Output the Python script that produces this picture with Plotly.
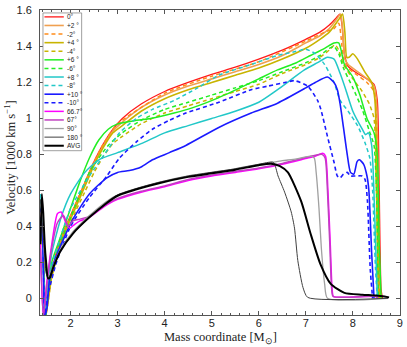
import plotly.graph_objects as go

# ---- data (mass coordinate [Msun], velocity [1000 km/s]) ----
m_p0 = [1.36, 1.39, 1.43, 1.46, 1.52, 1.60, 1.75, 1.90, 2.10, 2.30, 2.50, 2.70, 2.90, 3.10, 3.50, 4.00, 4.50,
        5.00, 5.50, 6.00, 6.50, 7.00, 7.30, 7.50, 7.65, 7.72, 7.77, 7.82, 7.90, 8.10, 8.30, 8.45, 8.52, 8.56,
        8.60, 8.63]
v_p0 = [0.40, 0.50, 0.20, -0.10, 0.02, 0.15, 0.30, 0.40, 0.52, 0.64, 0.76, 0.86, 0.94, 1.00, 1.08, 1.15, 1.20,
        1.245, 1.285, 1.33, 1.38, 1.44, 1.48, 1.52, 1.56, 1.58, 1.52, 1.36, 1.29, 1.25, 1.22, 1.19, 1.10, 0.60,
        0.05, 0.0]

m_p2 = [1.36, 1.40, 1.44, 1.47, 1.53, 1.60, 1.75, 1.90, 2.10, 2.30, 2.50, 2.70, 2.90, 3.10, 3.50, 4.00, 4.50,
        5.00, 5.50, 6.00, 6.50, 7.00, 7.30, 7.50, 7.65, 7.74, 7.78, 7.83, 7.90, 8.10, 8.30, 8.45, 8.50, 8.54,
        8.58, 8.61]
v_p2 = [0.35, 0.45, 0.10, -0.10, 0.00, 0.13, 0.28, 0.39, 0.51, 0.63, 0.75, 0.85, 0.93, 0.98, 1.06, 1.13, 1.18,
        1.22, 1.26, 1.30, 1.35, 1.42, 1.46, 1.50, 1.55, 1.58, 1.50, 1.33, 1.30, 1.26, 1.22, 1.18, 1.10, 0.60,
        0.05, 0.0]

m_m2 = [1.36, 1.40, 1.44, 1.47, 1.53, 1.60, 1.75, 1.90, 2.10, 2.30, 2.50, 2.70, 2.90, 3.10, 4.00, 5.00, 6.00,
        7.00, 7.40, 7.60, 7.70, 7.75, 7.80, 7.90, 8.10, 8.30, 8.45, 8.50, 8.53, 8.57]
v_m2 = [0.30, 0.42, 0.05, -0.10, 0.02, 0.14, 0.29, 0.40, 0.52, 0.64, 0.76, 0.86, 0.94, 0.99, 1.14, 1.235, 1.315,
        1.43, 1.48, 1.50, 1.53, 1.45, 1.33, 1.28, 1.24, 1.20, 1.15, 1.00, 0.50, 0.0]

m_p4 = [1.36, 1.40, 1.44, 1.47, 1.53, 1.60, 1.75, 1.90, 2.10, 2.30, 2.50, 2.70, 2.90, 3.10, 3.50, 4.00, 4.50,
        5.00, 5.50, 6.00, 6.50, 7.00, 7.30, 7.50, 7.70, 7.78, 7.83, 7.87, 7.92, 8.00, 8.10, 8.25, 8.40, 8.47,
        8.51, 8.55, 8.58]
v_p4 = [0.32, 0.40, 0.08, -0.10, 0.00, 0.12, 0.27, 0.38, 0.50, 0.62, 0.74, 0.84, 0.92, 0.96, 1.04, 1.11, 1.16,
        1.20, 1.24, 1.28, 1.33, 1.39, 1.44, 1.48, 1.55, 1.58, 1.48, 1.34, 1.34, 1.36, 1.33, 1.26, 1.20, 1.10,
        0.60, 0.05, 0.0]

m_m4 = [1.36, 1.40, 1.44, 1.47, 1.53, 1.60, 1.75, 1.90, 2.10, 2.30, 2.50, 2.70, 2.90, 3.10, 3.50, 4.00, 4.50,
        5.00, 5.50, 6.00, 6.50, 7.00, 7.30, 7.50, 7.62, 7.70, 7.80, 8.00, 8.20, 8.35, 8.45, 8.50, 8.54]
v_m4 = [0.28, 0.38, 0.05, -0.10, 0.00, 0.12, 0.26, 0.36, 0.48, 0.59, 0.70, 0.79, 0.86, 0.90, 0.97, 1.03, 1.07,
        1.11, 1.15, 1.19, 1.25, 1.30, 1.34, 1.38, 1.41, 1.38, 1.30, 1.22, 1.15, 1.08, 1.00, 0.60, 0.0]

m_p6 = [1.36, 1.40, 1.44, 1.47, 1.53, 1.60, 1.80, 2.00, 2.20, 2.40, 2.60, 2.80, 3.00, 3.30, 3.70, 4.20, 4.60,
        5.10, 5.60, 6.00, 6.40, 6.80, 7.10, 7.40, 7.60, 7.70, 7.75, 7.82, 8.00, 8.15, 8.30, 8.45, 8.52, 8.56,
        8.60]
v_p6 = [0.45, 0.38, 0.05, -0.10, 0.05, 0.20, 0.35, 0.50, 0.65, 0.78, 0.88, 0.94, 0.97, 0.985, 1.00, 1.03, 1.06,
        1.11, 1.17, 1.22, 1.27, 1.31, 1.35, 1.39, 1.42, 1.42, 1.38, 1.30, 1.23, 1.13, 1.00, 0.92, 0.80, 0.30,
        0.0]

m_m6 = [1.36, 1.40, 1.44, 1.47, 1.53, 1.60, 1.80, 2.00, 2.40, 2.80, 3.10, 3.50, 4.00, 4.50, 5.00, 5.50, 6.00,
        6.50, 7.00, 7.30, 7.50, 7.60, 7.70, 7.80, 8.00, 8.20, 8.35, 8.45, 8.50, 8.54]
v_m6 = [0.40, 0.35, 0.02, -0.10, 0.04, 0.16, 0.32, 0.45, 0.70, 0.85, 0.92, 0.99, 1.05, 1.09, 1.13, 1.17, 1.21,
        1.26, 1.31, 1.35, 1.39, 1.40, 1.36, 1.28, 1.17, 1.05, 0.93, 0.85, 0.60, 0.0]

m_p8 = [1.36, 1.39, 1.43, 1.46, 1.52, 1.60, 1.80, 2.00, 2.30, 2.60, 3.00, 3.50, 4.00, 4.50, 5.00, 5.50, 6.00,
        6.40, 6.97, 7.25, 7.46, 7.60, 7.73, 7.85, 8.00, 8.20, 8.27, 8.33, 8.40, 8.46, 8.52]
v_p8 = [0.58, 0.50, 0.10, -0.10, 0.08, 0.25, 0.45, 0.58, 0.70, 0.77, 0.81, 0.86, 0.92, 0.96, 1.00, 1.04, 1.09,
        1.16, 1.27, 1.31, 1.34, 1.33, 1.25, 1.16, 1.04, 0.94, 0.91, 0.92, 0.85, 0.50, 0.0]

m_m8 = [1.36, 1.39, 1.43, 1.46, 1.52, 1.60, 1.80, 2.00, 2.40, 2.80, 3.04, 3.40, 3.74, 4.20, 4.70, 5.15, 5.84,
        6.40, 6.83, 7.00, 7.20, 7.40, 7.60, 7.73, 7.90, 8.10, 8.25, 8.36, 8.42, 8.48, 8.52]
v_m8 = [0.55, 0.45, 0.08, -0.10, 0.05, 0.18, 0.35, 0.50, 0.68, 0.83, 0.92, 1.00, 1.05, 1.10, 1.17, 1.24, 1.30,
        1.35, 1.375, 1.385, 1.36, 1.30, 1.20, 1.10, 1.04, 0.96, 0.87, 0.78, 0.60, 0.17, 0.0]

m_p10 = [1.37, 1.41, 1.45, 1.50, 1.55, 1.65, 1.85, 2.05, 2.40, 2.77, 3.00, 3.25, 3.50, 3.74, 4.10, 4.45, 5.15,
         5.84, 6.40, 7.00, 7.20, 7.46, 7.60, 7.67, 7.73, 7.80, 7.88, 7.95, 8.02, 8.09, 8.14, 8.23, 8.30, 8.34,
         8.40, 8.45]
v_p10 = [0.45, 0.30, -0.10, -0.05, 0.10, 0.20, 0.33, 0.44, 0.58, 0.67, 0.70, 0.71, 0.73, 0.77, 0.81, 0.85, 0.95,
         1.03, 1.085, 1.17, 1.20, 1.23, 1.20, 1.16, 1.08, 0.95, 0.80, 0.70, 0.69, 0.76, 0.77, 0.745, 0.68, 0.60,
         0.25, 0.0]

m_m10 = [1.37, 1.41, 1.45, 1.50, 1.70, 2.00, 2.40, 2.77, 3.04, 3.40, 3.74, 4.10, 4.45, 5.15, 5.84, 6.20, 6.56,
         6.76, 7.04, 7.25, 7.32, 7.46, 7.60, 7.67, 7.73, 7.80, 7.88, 7.95, 8.05, 8.20, 8.26, 8.31, 8.37, 8.42]
v_m10 = [0.50, 0.35, -0.10, 0.00, 0.20, 0.40, 0.56, 0.68, 0.78, 0.87, 0.94, 0.99, 1.03, 1.09, 1.16, 1.18, 1.20,
         1.21, 1.18, 1.10, 1.05, 0.90, 0.756, 0.68, 0.67, 0.69, 0.70, 0.68, 0.68, 0.68, 0.66, 0.54, 0.16, 0.0]

m_667 = [1.36, 1.42, 1.50, 1.60, 1.72, 1.80, 1.90, 1.98, 2.08, 2.20, 2.40, 2.77, 3.00, 3.50, 4.00, 4.50, 5.00,
         5.50, 6.00, 6.50, 7.04, 7.20, 7.36, 7.42, 7.47, 7.52, 7.56, 7.59, 8.50, 8.53]
v_667 = [0.30, -0.10, 0.10, 0.30, 0.47, 0.48, 0.42, 0.39, 0.41, 0.43, 0.45, 0.52, 0.55, 0.59, 0.62, 0.655, 0.68,
         0.70, 0.72, 0.745, 0.78, 0.79, 0.806, 0.79, 0.60, 0.30, 0.05, 0.01, 0.01, 0.0]

m_67 = [1.36, 1.42, 1.50, 1.60, 1.72, 1.85, 1.95, 2.05, 2.20, 2.40, 2.77, 3.00, 3.50, 4.00, 4.50, 5.00, 5.50,
        6.00, 6.50, 7.04, 7.20, 7.34, 7.41, 7.46, 7.51, 7.55, 7.58, 8.50, 8.53]
v_67 = [0.28, -0.10, 0.08, 0.28, 0.42, 0.46, 0.40, 0.43, 0.44, 0.455, 0.525, 0.555, 0.595, 0.625, 0.66, 0.685,
        0.705, 0.725, 0.75, 0.785, 0.795, 0.80, 0.78, 0.60, 0.30, 0.05, 0.01, 0.01, 0.0]

m_90 = [1.36, 1.40, 1.44, 1.48, 1.53, 1.63, 1.78, 2.05, 2.40, 2.77, 3.00, 3.46, 3.88, 4.50, 5.00, 5.50, 6.00,
        6.26, 6.50, 6.80, 7.10, 7.18, 7.22, 7.28, 7.33, 7.40, 7.46, 8.75]
v_90 = [0.35, 0.50, 0.25, 0.15, 0.12, 0.18, 0.27, 0.37, 0.46, 0.54, 0.575, 0.615, 0.645, 0.68, 0.70, 0.72, 0.745,
        0.755, 0.765, 0.775, 0.79, 0.78, 0.70, 0.50, 0.28, 0.08, 0.0, 0.0]

m_180 = [1.36, 1.40, 1.44, 1.48, 1.53, 1.63, 1.78, 2.05, 2.40, 2.77, 3.00, 3.46, 3.88, 4.50, 5.00, 5.50, 6.00,
         6.31, 6.41, 6.55, 6.69, 6.76, 6.83, 6.94, 7.04, 8.75]
v_180 = [0.55, 0.40, 0.28, 0.14, 0.11, 0.17, 0.26, 0.36, 0.45, 0.535, 0.575, 0.615, 0.645, 0.68, 0.70, 0.72,
         0.745, 0.756, 0.68, 0.59, 0.48, 0.39, 0.21, 0.06, 0.005, 0.0]

m_avg = [1.36, 1.39, 1.42, 1.45, 1.48, 1.52, 1.56, 1.63, 1.78, 2.05, 2.40, 2.77, 3.00, 3.46, 3.88, 4.50, 5.00,
         5.50, 6.00, 6.26, 6.45, 6.62, 6.90, 7.10, 7.31, 7.53, 7.82, 8.20, 8.50, 8.77]
v_avg = [0.30, 0.58, 0.47, 0.30, 0.20, 0.11, 0.115, 0.17, 0.26, 0.36, 0.45, 0.53, 0.57, 0.61, 0.64, 0.675, 0.695,
         0.715, 0.74, 0.748, 0.735, 0.70, 0.54, 0.36, 0.19, 0.08, 0.03, 0.02, 0.015, 0.005]

labels = ["0°", "+2 °", "-2°", "+4 °", "-4°", "+6 °", "-6°", "+8 °", "-8°", "+10 °", "-10°",
          "66.7°", "67°", "90°", "180 °", "AVG"]

x_ticks = [2, 3, 4, 5, 6, 7, 8, 9]
y_ticks = [0, 0.2, 0.4, 0.6, 0.8, 1.0, 1.2, 1.4, 1.6]
y_ticktext = ["0", "0.2", "0.4", "0.6", "0.8", "1", "1.2", "1.4", "1.6"]

series = [
    (m_p0, v_p0, "#ff1a1a", "solid", 1.3),
    (m_p2, v_p2, "#f0a050", "solid", 1.6),
    (m_m2, v_m2, "#ff8c1a", "4px,3px", 1.5),
    (m_p4, v_p4, "#c8b400", "solid", 1.6),
    (m_m4, v_m4, "#c8b400", "4px,3px", 1.5),
    (m_p6, v_p6, "#22ee22", "solid", 1.5),
    (m_m6, v_m6, "#22ee22", "4px,3px", 1.5),
    (m_p8, v_p8, "#22c8c8", "solid", 1.5),
    (m_m8, v_m8, "#22c8c8", "4px,3px", 1.5),
    (m_p10, v_p10, "#1a1aff", "solid", 1.6),
    (m_m10, v_m10, "#1a1aff", "4px,3px", 1.6),
    (m_667, v_667, "#ff00ff", "solid", 1.5),
    (m_67, v_67, "#c040c0", "solid", 1.5),
    (m_90, v_90, "#a0a0a0", "solid", 1.3),
    (m_180, v_180, "#404040", "solid", 1.0),
    (m_avg, v_avg, "#000000", "solid", 2.0),
]

fig = go.Figure()
for (m, v, col, dash, w), name in zip(series, labels):
    fig.add_trace(go.Scatter(x=m, y=v, mode="lines", name=name, showlegend=False,
                             line=dict(color=col, dash=dash, width=w, shape="spline", smoothing=0.6)))

# hand-made compact legend (plotly's own legend rows are too tall for 16 entries)
L, R, T, B = 40, 403, 5, 315


def fx(px):
    return (px - L) / (R - L)


def fy(py):
    return (B - py) / (B - T)


shapes = [dict(type="rect", xref="paper", yref="paper", x0=fx(43), x1=fx(82), y0=fy(148), y1=fy(8),
               line=dict(color="#888888", width=0.8), fillcolor="white", layer="above")]
annotations = []
for i, ((m, v, col, dash, w), name) in enumerate(zip(series, labels)):
    py = 12 + 8.73 * i
    shapes.append(dict(type="line", xref="paper", yref="paper", x0=fx(44.5), x1=fx(64), y0=fy(py), y1=fy(py),
                       line=dict(color=col, dash=dash, width=w), layer="above"))
    annotations.append(dict(xref="paper", yref="paper", x=fx(65), y=fy(py), text=name, showarrow=False,
                            xanchor="left", yanchor="middle", font=dict(family="Liberation Sans", size=6.5,
                                                                         color="#222222")))

# axis titles placed as annotations so they sit exactly where the reference has them
title_font = dict(family="Liberation Serif", size=12.5, color="#222222")
annotations.append(dict(xref="paper", yref="paper", x=0.5, y=fy(338), text="Mass coordinate [M<sub>⊙</sub>]",
                        showarrow=False, xanchor="center", yanchor="middle", font=title_font))
annotations.append(dict(xref="paper", yref="paper", x=fx(9), y=fy(155), text="Velocity [1000 km s<sup>−1</sup>]",
                        showarrow=False, xanchor="center", yanchor="middle", textangle=-90, font=title_font))

axis_common = dict(showline=True, linecolor="#555555", linewidth=0.8, mirror="allticks", ticks="inside",
                   ticklen=4, tickwidth=0.7, tickcolor="#555555", showgrid=False, zeroline=False,
                   ticklabeloverflow="allow",
                   tickfont=dict(family="Liberation Sans", size=11, color="#222222"))

fig.update_xaxes(range=[1.35, 9.002], tickvals=x_ticks, ticklabelstandoff=-2,
                 minor=dict(dtick=0.2, tick0=0, ticks="inside", ticklen=2, tickcolor="#555555", showgrid=False),
                 **axis_common)
fig.update_yaxes(range=[-0.093, 1.603], tickvals=y_ticks, ticktext=y_ticktext, ticklabelstandoff=5,
                 **axis_common)

fig.update_layout(width=407, height=347, margin=dict(l=L, r=407 - R, t=T, b=347 - B),
                  plot_bgcolor="white", paper_bgcolor="white", shapes=shapes, annotations=annotations)

# the page's default 8px body margin would push the figure out of the window
fig.write_html("out.html", config={"displayModeBar": False},
               post_script="document.body.style.margin='0';")
